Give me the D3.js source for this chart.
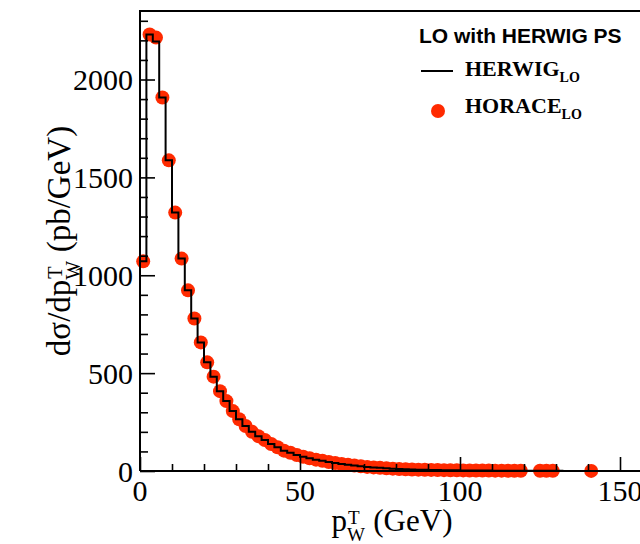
<!DOCTYPE html>
<html><head><meta charset="utf-8">
<script src="https://cdn.jsdelivr.net/npm/d3@7"></script>
<style>body{margin:0;background:#fff}svg{display:block}</style>
</head><body>
<svg id="c" width="640" height="544"></svg>
<script>
// HORACE_LO points: bin centres (GeV) and dσ/dpT (pb/GeV)
const horaceX = [1,3,5,7,9,11,13,15,17,19,21,23,25,27,29,31,33,35,37,39,41,43,45,47,49,51,53,55,57,59,61,63,65,67,69,71,73,75,77,79,81,83,85,87,89,91,93,95,97,99,101,103,105,107,109,111,113,115,117,119,125,127,129,141];
const horaceY = [1071,2230,2214,1908,1587,1320,1085,923,779,657,555,482,408,357,306,264,230,200,178,158,138,121,104,93,82,73,65,58,52,46,41,36,32,28,24,21,18.5,16,14,12,10.5,9,8,7,6.2,5.5,4.9,4.4,3.9,3.5,3.1,2.8,2.5,2.3,2.1,1.9,1.7,1.6,1.4,1.3,1.0,0.9,0.8,0.4];
// HERWIG_LO histogram: bin edges (GeV) and bin contents
const herwigEdges = [0,2,4,6,8,10,12,14,16,18,20,22,24,26,28,30,32,34,36,38,40,42,44,46,48,50,52,54,56,58,60,62,64,66,68,70,72,74,76,78,80,82,84,86,88,90,92,94,96,98,100,102,104,106,108,110,112,114,116,118,120,122,124,126,128,130,132,134,136,138,140,142,144,146,148,150];
const herwigY = [1071,2230,2194,1908,1587,1320,1085,923,779,657,555,482,408,357,306,264,230,200,178,158,138,121,104,93,82,73,65,58,52,46,41,36,32,28,24,21,18.5,16,14,12,10.5,9,8,7,6.2,5.5,4.9,4.4,3.9,3.5,3.1,2.8,2.5,2.3,2.1,1.9,1.7,1.6,1.4,1.3,1.2,1.1,1.0,0.9,0.8,0.7,0.6,0.6,0.5,0.5,0.4,0.4,0.3,0.3,0.3];
const xTicks = [0,50,100,150];
const yTicks = [0,500,1000,1500,2000];

const svg = d3.select("#c");
const L = 140, T = 11, B = 471, R = 652;
const x = d3.scaleLinear().domain([0,160]).range([L,R]);
const y = d3.scaleLinear().domain([0,2350]).range([B,T]);
const red = "#ff2a00";
const serif = "'Liberation Serif','Times New Roman',serif";
const sans = "'Liberation Sans',Arial,sans-serif";

// markers
svg.append("g").selectAll("circle").data(horaceX).join("circle")
  .attr("cx", d => x(d)).attr("cy", (d,i) => y(horaceY[i])).attr("r", 7)
  .attr("fill", red);

// histogram step line
const pts = herwigY.map((v,i) => [herwigEdges[i], v]);
pts.push([herwigEdges[herwigEdges.length-1], herwigY[herwigY.length-1]]);
svg.append("path")
  .attr("d", d3.line().x(d => x(d[0])).y(d => y(d[1])).curve(d3.curveStepAfter)(pts))
  .attr("fill","none").attr("stroke","#000").attr("stroke-width",2);

// frame
svg.append("path").attr("d", `M${L},${B}V${T}H${R}`).attr("fill","none").attr("stroke","#000").attr("stroke-width",2);
svg.append("line").attr("x1",L).attr("x2",R).attr("y1",B).attr("y2",B).attr("stroke","#000").attr("stroke-width",2);

// axes (ticks inside)
const yAx = d3.axisRight(y).tickValues(d3.range(0,2301,100)).tickSize(0).tickFormat("");
const gy = svg.append("g").attr("transform",`translate(${L},0)`).call(yAx);
gy.select(".domain").remove();
gy.selectAll(".tick line").attr("x2", d => d % 500 === 0 ? 15 : 8).attr("stroke","#000").attr("stroke-width",1.6);
const xAx = d3.axisTop(x).tickValues(d3.range(0,161,10)).tickSize(0).tickFormat("");
const gx = svg.append("g").attr("transform",`translate(0,${B})`).call(xAx);
gx.select(".domain").remove();
gx.selectAll(".tick line").attr("y2", d => d % 50 === 0 ? -14 : -7).attr("stroke","#000").attr("stroke-width",1.6);

// tick labels
svg.append("g").selectAll("text").data(yTicks).join("text")
  .attr("x", 133).attr("y", d => y(d)).attr("dy","0.36em")
  .attr("text-anchor","end").attr("font-family",serif).attr("font-size",30).text(d => d);
svg.append("g").selectAll("text").data(xTicks).join("text")
  .attr("x", d => x(d)).attr("y", 501)
  .attr("text-anchor","middle").attr("font-family",serif).attr("font-size",30).text(d => d);

// x title
const xt = svg.append("text").attr("x",392).attr("y",531).attr("text-anchor","middle")
  .attr("font-family",serif).attr("font-size",31);
xt.append("tspan").text("p");
xt.append("tspan").attr("font-size",19).attr("dy",10).text("W");
xt.append("tspan").attr("font-size",19).attr("dx",-17).attr("dy",-17).text("T");
xt.append("tspan").attr("dx",6).attr("dy",7).text(" (GeV)");

// y title
const yt = svg.append("text").attr("transform","translate(70,241) rotate(-90)").attr("text-anchor","middle")
  .attr("font-family",serif).attr("font-size",33);
yt.append("tspan").text("dσ/dp");
yt.append("tspan").attr("font-size",20).attr("dy",10).text("W");
yt.append("tspan").attr("font-size",20).attr("dx",-18).attr("dy",-18).text("T");
yt.append("tspan").attr("dx",6).attr("dy",8).text(" (pb/GeV)");

// legend
svg.append("text").attr("x",419).attr("y",43).attr("font-family",sans).attr("font-weight","bold")
  .attr("font-size",21).text("LO with HERWIG PS");
svg.append("line").attr("x1",421).attr("x2",453).attr("y1",71).attr("y2",71).attr("stroke","#000").attr("stroke-width",2);
const l1 = svg.append("text").attr("x",465).attr("y",76).attr("font-family",serif).attr("font-weight","bold").attr("font-size",22);
l1.append("tspan").text("HERWIG");
l1.append("tspan").attr("font-size",14).attr("dy",6).text("LO");
svg.append("circle").attr("cx",438).attr("cy",111).attr("r",7).attr("fill",red);
const l2 = svg.append("text").attr("x",465).attr("y",113).attr("font-family",serif).attr("font-weight","bold").attr("font-size",22);
l2.append("tspan").text("HORACE");
l2.append("tspan").attr("font-size",14).attr("dy",6).text("LO");
</script>
</body></html>
